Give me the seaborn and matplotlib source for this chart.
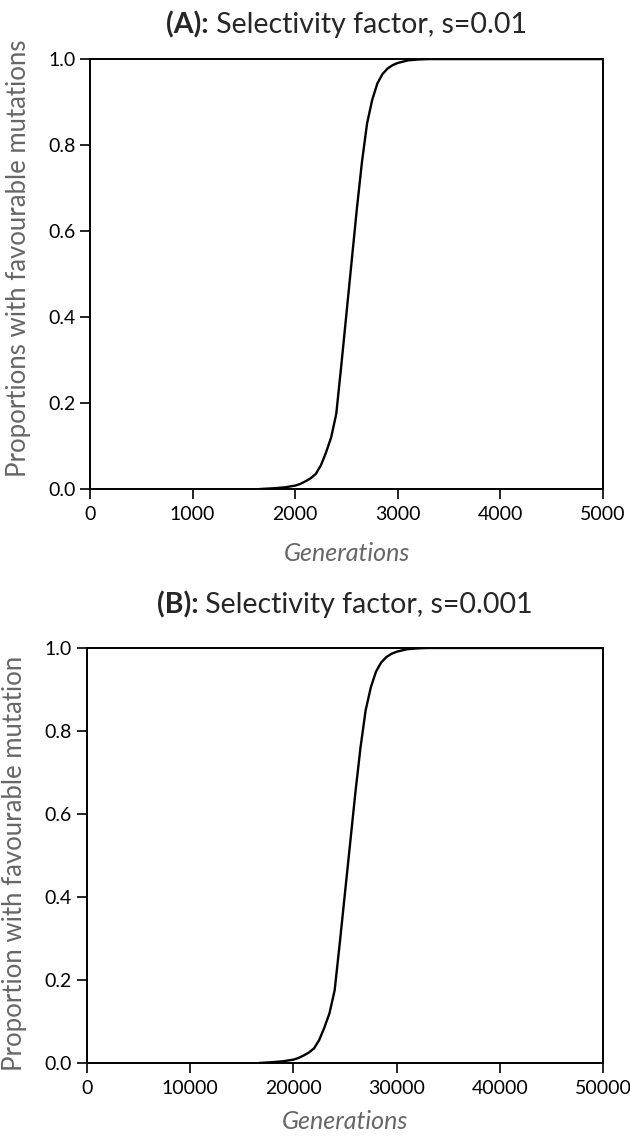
import numpy as np
import pandas as pd
import seaborn as sns
import matplotlib.pyplot as plt

sns.set_style("ticks")
plt.rcParams['font.family'] = ['Lato', 'DejaVu Sans']

# values
gens_a = [1650, 1800, 1900, 2000, 2050, 2100, 2150, 2200, 2250, 2300, 2350,
          2400, 2450, 2500, 2550, 2600, 2650, 2700, 2750, 2800, 2850, 2900,
          2950, 3000, 3100, 3200, 3300, 5000]
prop_a = [0.0, 0.002, 0.004, 0.008, 0.012, 0.018, 0.025, 0.035, 0.055, 0.085, 0.12,
          0.175, 0.29, 0.41, 0.53, 0.65, 0.76, 0.85, 0.905, 0.943, 0.965, 0.978,
          0.986, 0.991, 0.997, 0.999, 1.0, 1.0]

gens_b = [16700, 18000, 19000, 20000, 20500, 21000, 21500, 22000, 22500, 23000, 23500,
          24000, 24500, 25000, 25500, 26000, 26500, 27000, 27500, 28000, 28500, 29000,
          29500, 30000, 31000, 32000, 33000, 50000]
prop_b = [0.0, 0.002, 0.004, 0.008, 0.012, 0.018, 0.025, 0.035, 0.055, 0.085, 0.12,
          0.175, 0.29, 0.41, 0.53, 0.65, 0.76, 0.85, 0.905, 0.943, 0.965, 0.978,
          0.986, 0.991, 0.997, 0.999, 1.0, 1.0]

xticks_a = [0, 1000, 2000, 3000, 4000, 5000]
xticks_b = [0, 10000, 20000, 30000, 40000, 50000]
yticks = [0.0, 0.2, 0.4, 0.6, 0.8, 1.0]

GREY = '#666666'

fig = plt.figure(figsize=(6.3, 11.36), dpi=100)
ax_a = fig.add_axes([0.1429, 0.5695, 0.8143, 0.3785])
ax_b = fig.add_axes([0.1376, 0.0643, 0.8200, 0.3653])


def draw_panel(ax, gens, prop, xticks, ylabel, tag, rest, ylab_y, xlab_y):
    df = pd.DataFrame({'gen': gens, 'prop': prop})
    sns.lineplot(data=df, x='gen', y='prop', ax=ax, color='black', lw=1.7)
    ax.set_xlim(xticks[0], xticks[-1])
    ax.set_ylim(0, 1)
    ax.set_xticks(xticks)
    ax.set_yticks(yticks)
    ax.set_yticklabels([f'{v:.1f}' for v in yticks])
    ax.tick_params(labelsize=14, length=7, width=1.2, direction='out', colors='black')
    ax.tick_params(axis='x', pad=5)
    for sp in ax.spines.values():
        sp.set_visible(True)
        sp.set_linewidth(1.4)
        sp.set_color('black')
    ax.set_xlabel('Generations', fontsize=18, style='italic', color=GREY)
    ax.xaxis.set_label_coords(0.5, xlab_y)
    ax.xaxis.label.set_va('center')
    ax.set_ylabel(ylabel, fontsize=18.5, color=GREY)
    ax.yaxis.set_label_coords(-0.14, ylab_y)
    ax.yaxis.label.set_va('center')
    t1 = ax.text(0.5, 1.0, tag, transform=ax.transAxes, fontsize=20.5,
                 fontweight='bold', ha='left', va='baseline')
    t2 = ax.text(0.5, 1.0, rest, transform=ax.transAxes, fontsize=20.5,
                 ha='left', va='baseline')
    return t1, t2


titles = [
    draw_panel(ax_a, gens_a, prop_a, xticks_a,
               'Proportions with favourable mutations', '(A):', ' Selectivity factor, s=0.01',
               0.537, -0.149),
    draw_panel(ax_b, gens_b, prop_b, xticks_b,
               'Proportion with favourable mutation', '(B):', ' Selectivity factor, s=0.001',
               0.48, -0.14),
]

# centre the two-part titles over each panel
fig.canvas.draw()
r = fig.canvas.get_renderer()
for ax, (t1, t2), gap in zip([ax_a, ax_b], titles, [26, 35]):
    w1 = t1.get_window_extent(r).width
    w2 = t2.get_window_extent(r).width
    bb = ax.get_window_extent(r)
    x0 = bb.x0 + bb.width / 2 - (w1 + w2) / 2
    y0 = bb.y1 + gap
    inv = ax.transAxes.inverted()
    t1.set_position(inv.transform((x0, y0)))
    t2.set_position(inv.transform((x0 + w1, y0)))

fig.savefig('out.png', dpi=100)
